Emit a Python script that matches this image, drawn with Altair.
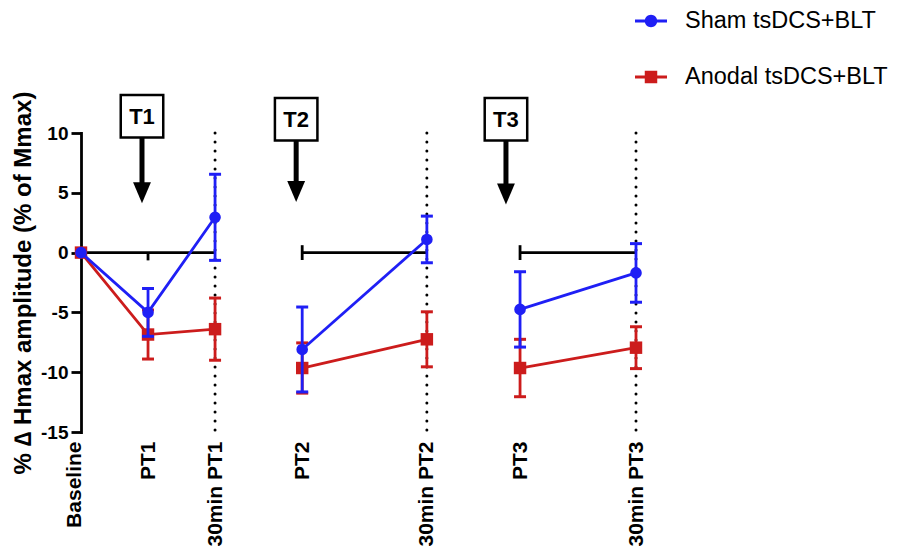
import altair as alt
import pandas as pd

FONT = "Liberation Sans"

# ---------------- data ----------------
timepoints = ["Baseline", "PT1", "30min PT1", "PT2", "30min PT2", "PT3", "30min PT3"]
x_pos = [0, 1, 2, 3.3, 5.16, 6.55, 8.28]          # category positions (time-like spacing)
segment = [1, 1, 1, 2, 2, 3, 3]                   # connected line segments

groups = ["Sham tsDCS+BLT", "Anodal tsDCS+BLT"]
colors = ["#1f1ff5", "#cc1c1c"]

sham_mean = [0, -5.0, 2.95, -8.1, 1.1, -4.75, -1.7]
sham_err = [0, 2.0, 3.6, 3.55, 1.95, 3.15, 2.45]
anodal_mean = [0, -6.85, -6.4, -9.65, -7.25, -9.65, -7.95]
anodal_err = [0, 2.05, 2.6, 2.1, 2.3, 2.4, 1.75]

y_ticks = [-15, -10, -5, 0, 5, 10]

# treatment annotations
box_labels = ["T1", "T2", "T3"]
box_x = [0.91, 3.21, 6.34]
box_y = [11.4, 11.15, 11.15]
arrow_head_y = [5.0, 5.1, 4.9]

# ---------------- tables ----------------
rows = []
for g, means, errs in [(groups[1], anodal_mean, anodal_err), (groups[0], sham_mean, sham_err)]:
    for tp, x, s, m, e in zip(timepoints, x_pos, segment, means, errs):
        rows.append(dict(group=g, tp=tp, x=x, seg=s, mean=m, lo=m - e, hi=m + e, err=e))
df = pd.DataFrame(rows)

dotted_df = pd.DataFrame({"x": [x_pos[2], x_pos[4], x_pos[6]],
                          "top": y_ticks[-1], "bottom": y_ticks[0]})
zero_df = pd.DataFrame({"x": [x_pos[0], x_pos[3], x_pos[5]],
                        "x2": [x_pos[2], x_pos[4], x_pos[6]], "y": 0})
cap_df = pd.DataFrame({"x": [x_pos[1], x_pos[3], x_pos[5]],
                       "top": [0, 0.62, 0.62], "bottom": [-0.65, -0.62, -0.62]})
ann_df = pd.DataFrame({"label": box_labels, "x": box_x, "y": box_y, "head": arrow_head_y})

# ---------------- scales / axes ----------------
xs = alt.Scale(domain=[x_pos[0], x_pos[-1]], nice=False, zero=False)
ys = alt.Scale(domain=[y_ticks[0], y_ticks[-1]], nice=False, zero=False)

label_expr = "[" + ",".join("'%s'" % t for t in timepoints) + "][indexof([" + \
    ",".join(str(v) for v in x_pos) + "], datum.value)]"

x_axis = alt.Axis(values=x_pos, labelExpr=label_expr, title=None, domain=False,
                  ticks=False, tickSize=0, grid=False, labelAngle=270,
                  labelFontSize=21, labelFontWeight="bold", labelPadding=9,
                  labelOverlap=False, labelFlush=False, labelBound=False,
                  labelColor="black", labelFont=FONT,
                  labelOffset={"condition": {"test": "datum.value == 0", "value": -7}, "value": 0})

y_axis = alt.Axis(values=y_ticks, labelExpr="'' + datum.value",
                  title="% \u2206 Hmax amplitude (% of Mmax)", grid=False,
                  domainColor="black", domainWidth=2.8, domainCap="square",
                  tickColor="black", tickWidth=2.8, tickSize=10,
                  labelFontSize=19, labelFontWeight="bold", labelPadding=3,
                  labelColor="black", labelFont=FONT,
                  titleFontSize=24, titleFontWeight="bold", titlePadding=5,
                  titleColor="black", titleFont=FONT)


def X(f):
    return alt.X(f, type="quantitative", scale=xs, axis=x_axis)


def Y(f):
    return alt.Y(f, type="quantitative", scale=ys, axis=y_axis)


# ---------------- layers ----------------
dotted = alt.Chart(dotted_df).mark_rule(
    color="black", strokeWidth=3, strokeDash=[0.1, 8.9], strokeCap="round"
).encode(x=X("x"), y=Y("top"), y2="bottom")

zero_line = alt.Chart(zero_df).mark_rule(color="black", strokeWidth=2.8).encode(
    x=X("x"), x2="x2", y=Y("y"))

zero_caps = alt.Chart(cap_df).mark_rule(color="black", strokeWidth=2.8).encode(
    x=X("x"), y=Y("top"), y2="bottom")

group_layers = []
for g, col, shape, size in [(groups[1], colors[1], "square", 155),
                            (groups[0], colors[0], "circle", 135)]:
    base = alt.Chart(df).transform_filter(alt.datum.group == g)
    err_rule = base.transform_filter("datum.err > 0").mark_rule(
        color=col, strokeWidth=2.8).encode(x=X("x"), y=Y("lo"), y2="hi")
    err_caps = base.transform_filter("datum.err > 0").transform_fold(
        ["lo", "hi"], as_=["end", "val"]).mark_tick(
        color=col, orient="horizontal", size=12, thickness=3, opacity=1).encode(
        x=X("x"), y=Y("val"))
    line = base.mark_line(color=col, strokeWidth=2.8).encode(
        x=X("x"), y=Y("mean"), detail="seg:N")
    pts = base.mark_point(filled=True, color=col, shape=shape, size=size, opacity=1).encode(
        x=X("x"), y=Y("mean"))
    group_layers += [err_rule, err_caps, line, pts]

circle_path = ("M-1,-0.09H1V0.09H-1Z "
               "M-0.39,0A0.39,0.39 0 1,1 0.39,0A0.39,0.39 0 1,1 -0.39,0Z")
square_path = "M-1,-0.09H1V0.09H-1Z M-0.39,-0.39H0.39V0.39H-0.39Z"

legend_def = alt.Legend(orient="none", legendX=554, legendY=-128, title=None,
                        direction="vertical", labelFontSize=23.5, labelFont=FONT,
                        labelColor="black", symbolSize=1024, rowPadding=28,
                        labelOffset=18, padding=0, symbolStrokeWidth=0,
                        symbolOpacity=1, labelLimit=400)

legend_layer = alt.Chart(df).transform_filter("false").mark_point(filled=True, opacity=1).encode(
    x=X("x"), y=Y("mean"),
    color=alt.Color("group:N", scale=alt.Scale(domain=groups, range=colors), legend=legend_def),
    shape=alt.Shape("group:N", scale=alt.Scale(domain=groups, range=[circle_path, square_path]),
                    legend=legend_def),
)

shaft = alt.Chart(ann_df).mark_rule(color="black", strokeWidth=5).encode(
    x=X("x"), y=Y("y"), y2="head")
head = alt.Chart(ann_df).mark_point(
    shape="M-0.85,-1L0.85,-1L0,1Z", size=441, filled=True, color="black", opacity=1
).encode(x=X("x"), y=Y("head"))
box = alt.Chart(ann_df).mark_point(
    shape="square", size=1806, filled=True, fill="white", stroke="black",
    strokeWidth=2.5, opacity=1
).encode(x=X("x"), y=Y("y"))
box_text = alt.Chart(ann_df).mark_text(
    fontSize=22, fontWeight="bold", font=FONT, color="black", baseline="middle", dy=1
).encode(x=X("x"), y=Y("y"), text="label:N")

chart = alt.layer(
    dotted, zero_line, zero_caps, *group_layers, legend_layer, shaft, head, box, box_text
).properties(
    width=555, height=299,
    padding={"left": 73, "top": 125, "right": 256, "bottom": 114},
    autosize=alt.AutoSizeParams(type="none"),
).configure(font=FONT).configure_view(stroke=None)

chart.save("out.html", embed_options={"renderer": "svg", "actions": False})
